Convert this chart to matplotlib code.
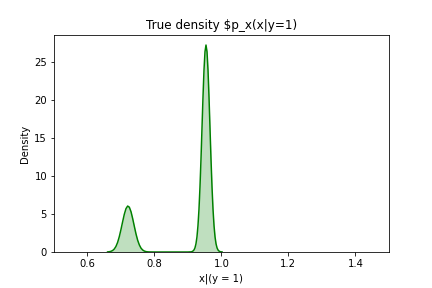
import matplotlib
matplotlib.use("Agg")
import matplotlib.pyplot as plt

# Density curve values (x, density)
x_vals = [0.660, 0.665, 0.670, 0.675, 0.680, 0.685, 0.690, 0.695, 0.700, 0.705,
          0.710, 0.715, 0.720, 0.725, 0.730, 0.735, 0.740, 0.745, 0.750, 0.755,
          0.760, 0.765, 0.770, 0.775, 0.780, 0.785, 0.800, 0.850, 0.900, 0.909,
          0.912, 0.915, 0.918, 0.921, 0.924, 0.927, 0.930, 0.933, 0.936, 0.939,
          0.942, 0.945, 0.948, 0.951, 0.954, 0.957, 0.960, 0.963, 0.966, 0.969,
          0.972, 0.975, 0.978, 0.981, 0.984, 0.987, 0.990, 0.993, 0.996, 0.999,
          1.002]
density = [0.014, 0.036, 0.087, 0.19, 0.39, 0.73, 1.26, 2.01, 2.95, 3.98,
           4.96, 5.70, 6.04, 5.89, 5.30, 4.39, 3.36, 2.36, 1.53, 0.92,
           0.50, 0.26, 0.12, 0.05, 0.02, 0.01, 0.0, 0.0, 0.0, 0.02,
           0.05, 0.12, 0.26, 0.54, 1.07, 1.98, 3.44, 5.58, 8.50, 12.13,
           16.22, 20.33, 23.91, 26.33, 27.2, 26.33, 23.91, 20.33, 16.22, 12.13,
           8.50, 5.58, 3.44, 1.98, 1.07, 0.54, 0.26, 0.12, 0.05, 0.02,
           0.01]
x_ticks = [0.6, 0.8, 1.0, 1.2, 1.4]
y_ticks = [0, 5, 10, 15, 20, 25]

fig, ax = plt.subplots(figsize=(6, 4), dpi=72)
fig.subplots_adjust(left=0.125, right=0.9, bottom=0.125, top=0.878)
ax.plot(x_vals, density, color="green", lw=1.5)
ax.fill_between(x_vals, density, color="green", alpha=0.25, lw=0)
ax.set_xlim(0.5, 1.5)
ax.set_ylim(0, 28.5)
ax.set_xticks(x_ticks)
ax.set_yticks(y_ticks)
ax.set_title("True density \\$p_x(x|y=1)")
ax.set_xlabel("x|(y = 1)")
ax.set_ylabel("Density")
fig.savefig("out.png", dpi=72)
